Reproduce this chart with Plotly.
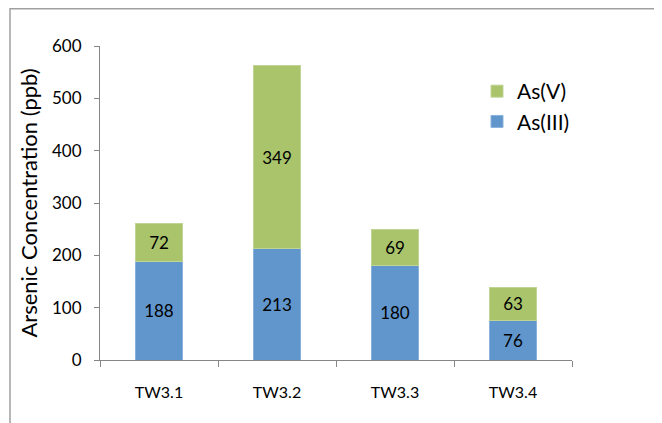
import plotly.graph_objects as go

categories = ["TW3.1", "TW3.2", "TW3.3", "TW3.4"]
as_iii = [188, 213, 180, 76]
as_v = [72, 349, 69, 63]
y_ticks = [0, 100, 200, 300, 400, 500, 600]

BLUE = "#6096CC"
GREEN = "#A9C46B"
FONT = "Lato, Open Sans, sans-serif"

fig = go.Figure()
fig.add_trace(go.Bar(
    name="As(III)", x=categories, y=as_iii, marker=dict(color=BLUE, line=dict(color="#8AB2DC", width=1)),
    text=as_iii, textposition="inside", insidetextanchor="middle",
    textfont=dict(size=17, color="black", family=FONT), width=0.4,
))
fig.add_trace(go.Bar(
    name="As(V)", x=categories, y=as_v, marker=dict(color=GREEN, line=dict(color="#C0D595", width=1)),
    text=as_v, textposition="inside", insidetextanchor="middle",
    textfont=dict(size=17, color="black", family=FONT), width=0.4,
))

# the page body adds an 8px offset; figure coordinates compensate for it
W, H = 654, 415
L, T = 92, 38
R = W - 564
B = H - 352
pw, ph = W - L - R, H - T - B

def px_to_paper_x(px):
    return (px - L) / pw

def px_to_paper_y(py):
    return (H - B - py) / ph

fig.update_layout(
    barmode="stack",
    width=W, height=H,
    margin=dict(l=L, r=R, t=T, b=B, pad=0),
    paper_bgcolor="white", plot_bgcolor="white",
    font=dict(family=FONT, size=17, color="black"),
    showlegend=True,
    legend=dict(
        x=px_to_paper_x(469), y=px_to_paper_y(63), xanchor="left", yanchor="top",
        traceorder="reversed", font=dict(size=21, family=FONT),
        bgcolor="rgba(0,0,0,0)", itemwidth=30, tracegroupgap=4,
    ),
    uniformtext=dict(mode=False),
    shapes=[dict(
        type="rect", xref="paper", yref="paper",
        x0=px_to_paper_x(2), x1=px_to_paper_x(700),
        y0=px_to_paper_y(460), y1=px_to_paper_y(0.8),
        line=dict(color="#A0A0A0", width=1.5), fillcolor="rgba(0,0,0,0)", layer="below",
    )],
)

fig.update_xaxes(
    showline=True, linecolor="#868686", linewidth=1,
    ticks="outside", tickson="boundaries", ticklen=6, tickcolor="#868686",
    tickfont=dict(size=16, family=FONT), showgrid=False, ticklabelstandoff=18,
)
fig.update_yaxes(
    range=[0, 600], tickvals=y_ticks, showline=True, linecolor="#868686", linewidth=1,
    ticks="outside", ticklen=5, tickcolor="#868686", showgrid=False, zeroline=False,
    tickfont=dict(size=17, family=FONT), ticklabelstandoff=9,
    title=dict(text="Arsenic Concentration (ppb)", font=dict(size=22, family=FONT), standoff=8),
)

fig.write_html("out.html")
